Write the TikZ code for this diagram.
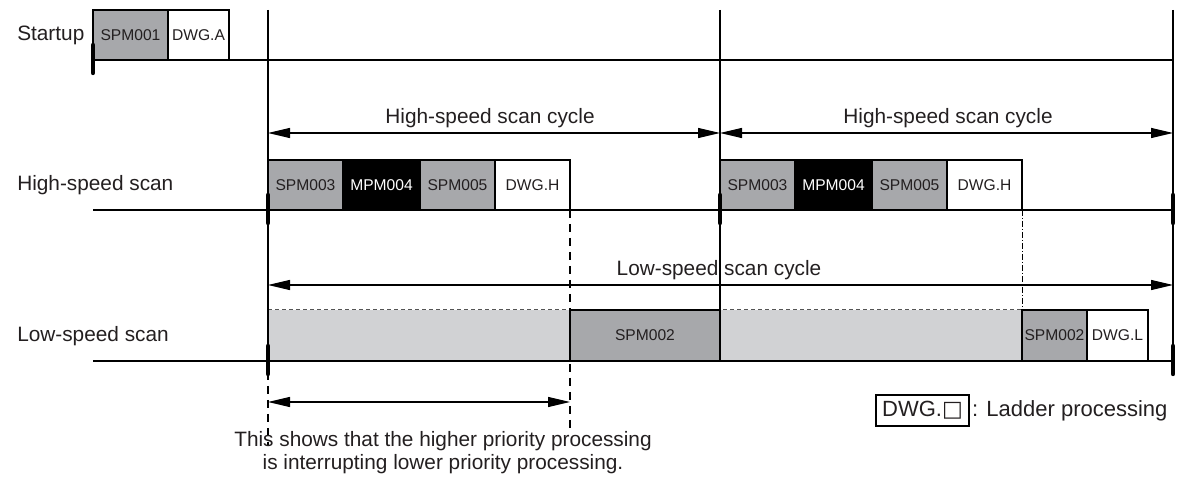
\documentclass[tikz,border=0pt]{standalone}
\usepackage{fontspec}
\setmainfont{Liberation Sans}
\newfontfamily\symfont{DejaVu Sans}
\usetikzlibrary{positioning,arrows.meta}
\definecolor{spmgray}{HTML}{A7A8AB}
\definecolor{idlegray}{HTML}{D1D2D4}
\definecolor{inktone}{HTML}{231F20}
\definecolor{dotgray}{HTML}{555555}

\begin{document}
\begin{tikzpicture}[x=0.5pt,y=-0.5pt,line width=0.6pt,
  every node/.style={font=\fontsize{10.4}{11.5}\selectfont,text=inktone},
  pbox/.style={draw,minimum width=#1,minimum height=25pt,inner sep=0pt,outer sep=0pt,font=\fontsize{7.8}{9}\selectfont},
  scantick/.style={line width=2.2pt,line cap=round},
  cyclearrow/.style={{Triangle[length=11pt,width=5pt]}-{Triangle[length=11pt,width=5pt]}},
  guide/.style={dash pattern=on 4pt off 3pt}]
\useasboundingbox (0,0) rectangle (1179,480);
% Row labels on the left
\node[anchor=west] (lstart) at (10,35) {Startup};
\node[anchor=west] (lhigh) at (10,185) {High-speed scan};
\node[anchor=west] (llow) at (10,336) {Low-speed scan};
% Low-speed idle band with dotted upper edge
\fill[idlegray] (268,310) rectangle (1022,361);
\draw[dotgray,line width=0.5pt,dash pattern=on 2pt off 1.5pt] (268,310) -- (1022,310);
% Scan boundaries and guides
\foreach \x in {268,720,1173}{\draw (\x,10) -- (\x,361);}
\draw[guide] (268,372) -- (268,445);
\draw[guide] (570,210) -- (570,432);
\draw[line width=0.4pt,dash pattern=on 3pt off 1pt on 0.5pt off 1pt] (1022,210) -- (1022,310);
% Timelines
\foreach \y in {60,210,361}{\draw (93,\y) -- (1173,\y);}
% Startup processing
\node[pbox=37.5pt,fill=spmgray,anchor=south west] (spm001) at (93,60) {SPM001};
\node[pbox=30.5pt,fill=white,right=0pt of spm001] (dwga) {DWG.A};
% High-speed processing, once per cycle
\foreach \x/\n in {268/a,720/b}{
  \node[pbox=37.5pt,fill=spmgray,anchor=south west] (spm003\n) at (\x,210) {SPM003};
  \node[pbox=38.5pt,fill=black,text=white,right=0pt of spm003\n] (mpm004\n) {MPM004};
  \node[pbox=37.5pt,fill=spmgray,right=0pt of mpm004\n] (spm005\n) {SPM005};
  \node[pbox=37.5pt,fill=white,right=0pt of spm005\n] (dwgh\n) {DWG.H};
}
% Low-speed processing
\node[pbox=75pt,minimum height=25.5pt,fill=spmgray,anchor=south west] (spm002a) at (570,361) {SPM002};
\node[pbox=32.5pt,minimum height=25.5pt,fill=spmgray,anchor=south west] (spm002b) at (1022,361) {SPM002};
\node[pbox=30.5pt,minimum height=25.5pt,fill=white,right=0pt of spm002b] (dwgl) {DWG.L};
% Ticks at scan starts
\foreach \x/\y in {93/60,268/210,720/210,1173/210,268/361,1173/361}{\draw[scantick] (\x,\y-15) -- (\x,\y+13);}
% Cycle arrows
\coordinate (hc0) at (268,133);
\coordinate (hc1) at (720,133);
\coordinate (hc2) at (1173,133);
\coordinate (lc0) at (268,285);
\coordinate (lc1) at (1173,285);
\coordinate (ic0) at (268,402);
\coordinate (ic1) at (570,402);
\draw[cyclearrow] (hc0) -- (hc1);
\draw[cyclearrow] (hc1) -- (hc2);
\draw[cyclearrow] (lc0) -- (lc1);
\draw[cyclearrow] (ic0) -- (ic1);
\node (hslabel1) at (490,118) {High-speed scan cycle};
\node (hslabel2) at (948,118) {High-speed scan cycle};
\node (lslabel) at (719,270) {Low-speed scan cycle};
% Note and legend
\node[align=center] (note) at (443,453) {This shows that the higher priority processing\\is interrupting lower priority processing.};
\node[draw,fill=none,inner sep=0pt,minimum width=46.5pt,minimum height=15.5pt,font=\fontsize{11}{12}\selectfont] (legbox) at (922.5,410.5) {DWG.{\symfont □}};
\node[right=0pt of legbox,inner sep=1pt,font=\fontsize{11}{12}\selectfont] (legtext) {: Ladder processing};
\end{tikzpicture}
\end{document}
